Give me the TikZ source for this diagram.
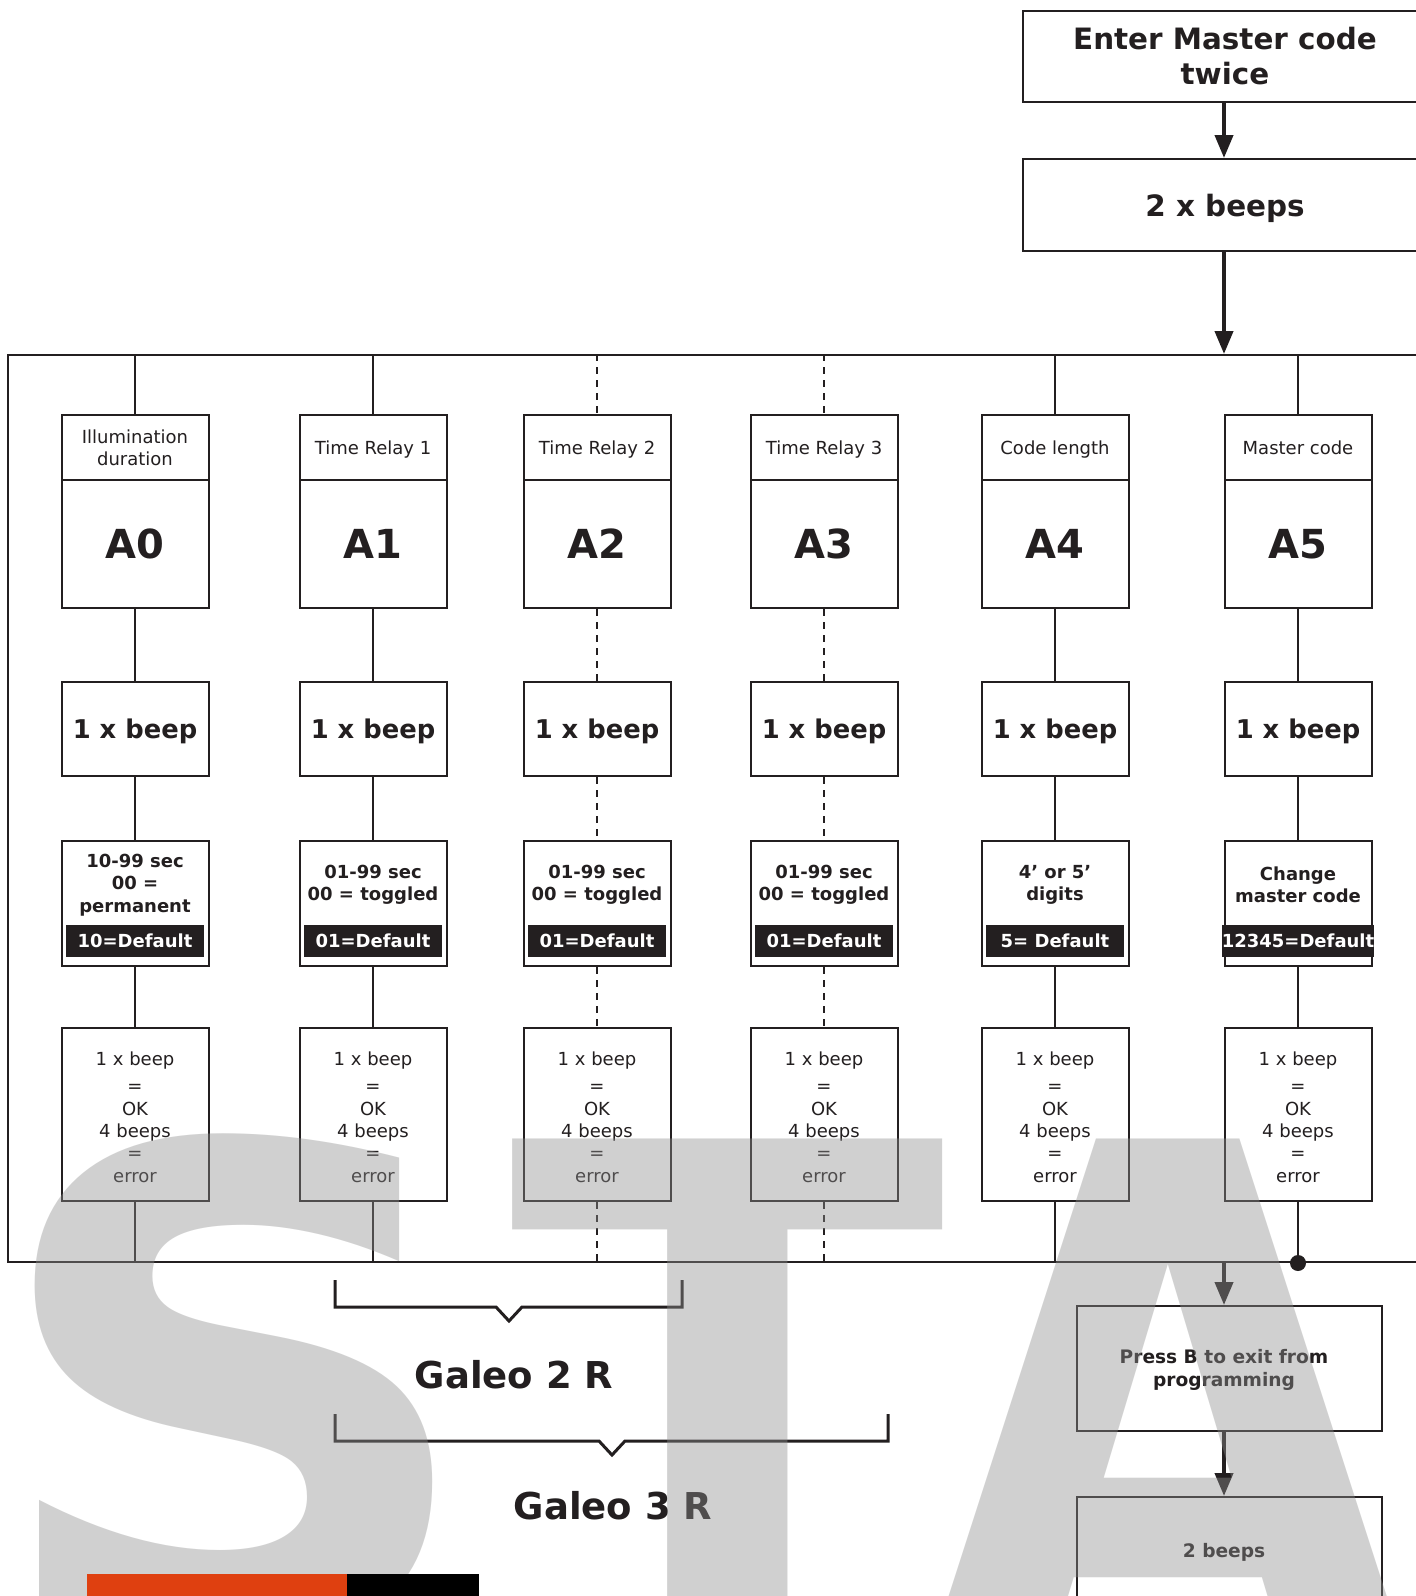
\documentclass[tikz,border=0pt]{standalone}
\usepackage{fontspec}
\setmainfont{DejaVu Sans}
\usetikzlibrary{arrows.meta}
\definecolor{ink}{RGB}{35,31,32}
\definecolor{wm}{gray}{0.56}
\definecolor{orangebar}{RGB}{223,64,16}
\tikzset{
 base/.style={draw=ink, line width=1pt, inner sep=0pt, align=center, text=ink},
 hdr/.style={base, minimum width=73.5pt, minimum height=32.5pt, text depth=0pt, font=\fontsize{9}{11}\selectfont},
 abox/.style={base, minimum width=73.5pt, minimum height=64pt, font=\fontsize{20}{24}\selectfont\bfseries},
 beep/.style={base, minimum width=73.5pt, minimum height=47pt, text depth=0pt, font=\fontsize{12.9}{15}\selectfont\bfseries},
 valbox/.style={base, minimum width=73.5pt, minimum height=62.5pt},
 valtxt/.style={inner sep=0pt, align=center, text=ink, font=\fontsize{9}{11.25}\selectfont\bfseries},
 band/.style={fill=ink, text=white, inner sep=0pt, minimum width=69pt, minimum height=16pt, font=\fontsize{9}{11}\selectfont\bfseries},
 resbox/.style={base, minimum width=73.5pt, minimum height=86.5pt},
 restxt/.style={inner sep=0pt, align=center, text=ink, font=\fontsize{9}{11.2}\selectfont},
 bigbox/.style={base, font=\fontsize{14.7}{17.5}\selectfont\bfseries},
 exitbox/.style={base, minimum width=152.5pt},
 exittxt/.style={inner sep=0pt, align=center, text=ink, font=\fontsize{9.3}{11.5}\selectfont\bfseries},
 csolid/.style={draw=ink, line width=1pt},
 cdash/.style={draw=ink, line width=0.85pt, dash pattern=on 3.5pt off 3pt},
 flow/.style={draw=ink, line width=2pt, -{Triangle[length=11.5pt,width=9pt]}},
 bracket/.style={draw=ink, line width=1.5pt},
 galeo/.style={text=ink, inner sep=0pt, font=\fontsize{18.5}{22}\selectfont\bfseries},
 wmark/.style={text=wm, text opacity=0.41, inner sep=0pt, anchor=base, font=\fontsize{320}{320}\selectfont\bfseries},
}
\begin{document}
\begin{tikzpicture}[x=0.5pt,y=-0.5pt]
\useasboundingbox (0,0) rectangle (1416,1596);
\fill[white] (0,0) rectangle (1416,1596);

% top flow
\node[bigbox, minimum width=202pt, minimum height=45.5pt] (enter) at (1225,56.5) {Enter Master code\\twice};
\node[bigbox, minimum width=202pt, minimum height=46pt, text depth=0pt] (bp2) at (1225,205) {2 x beeps};
\coordinate (ax) at (1224,0);

% frame
\node[base, minimum width=716pt, minimum height=453.5pt] (frame) at (724,808.5) {};

\draw[flow] (enter.south -| ax) -- (bp2.north -| ax);
\draw[flow] (bp2.south -| ax) -- (frame.north -| ax);

% columns
\foreach \i/\x/\st/\head/\val/\dflt in {
 0/135/csolid/{Illumination\\duration}/{10-99 sec\\00 =\\permanent}/{10=Default},
 1/373/csolid/{Time Relay 1}/{01-99 sec\\00 = toggled}/{01=Default},
 2/597/cdash/{Time Relay 2}/{01-99 sec\\00 = toggled}/{01=Default},
 3/824/cdash/{Time Relay 3}/{01-99 sec\\00 = toggled}/{01=Default},
 4/1055/csolid/{Code length}/{4’ or 5’\\digits}/{5= Default},
 5/1298/csolid/{Master code}/{Change\\master code}/{12345=Default}}{
  \node[hdr] (h\i) at (\x,447.5) {\head};
  \node[abox] (a\i) at (\x,544) {A\i};
  \node[beep] (b\i) at (\x,729) {1 x beep};
  \node[valbox] (v\i) at (\x,903.5) {};
  \node[valtxt] (t\i) at (\x,885) {\val};
  \node[band] (d\i) at (\x,940.5) {\dflt};
  \node[resbox] (r\i) at (\x,1114.5) {};
  \node[restxt] (q\i) at (\x,1117) {1 x beep\\[2.5pt]=\\OK\\4 beeps\\=\\error};
  \draw[\st] (h\i.north |- frame.north) -- (h\i.north);
  \draw[\st] (a\i.south) -- (b\i.north);
  \draw[\st] (b\i.south) -- (v\i.north);
  \draw[\st] (v\i.south) -- (r\i.north);
}
\foreach \i in {0,1,4}{\draw[csolid] (r\i.south) -- (r\i.south |- frame.south);}
\foreach \i in {2,3}{\draw[cdash] (r\i.south) -- (r\i.south |- frame.south);}
\node[circle, fill=ink, inner sep=0pt, minimum size=8pt] (dot) at (r5.south |- frame.south) {};
\draw[csolid] (r5.south) -- (dot.center);

% exit flow
\node[exitbox, minimum height=62.5pt] (pb) at (1229.5,1368.5) {};
\node[exittxt] (pbt) at (1224,1370) {Press B to exit from\\programming};
\node[exitbox, minimum height=53pt] (tb) at (1229.5,1550) {};
\node[exittxt] (tbt) at (1224,1552) {2 beeps};
\draw[flow] (frame.south -| ax) -- (pb.north -| ax);
\draw[flow] (pb.south -| ax) -- (tb.north -| ax);

% brackets
\draw[bracket] (335,1280) -- (335,1307) -- (496,1307) -- (509,1321) -- (522,1307) -- (682,1307) -- (682,1280);
\node[galeo] (g2) at (514,1375) {Galeo 2 R};
\draw[bracket] (335,1414) -- (335,1441) -- (599,1441) -- (612,1455) -- (625,1441) -- (888,1441) -- (888,1414);
\node[galeo] (g3) at (613,1506) {Galeo 3 R};

% watermark
\node[wmark, xscale=1.08, yscale=1.05] (wmS) at (234,1632) {S};
\node[wmark] (wmT) at (728,1605) {T};
\node[wmark, yscale=1.15] (wmA) at (1168,1675) {A};

% colour bar
\fill[orangebar] (87,1574) rectangle (347,1600);
\fill[black] (347,1574) rectangle (479,1600);
\end{tikzpicture}
\end{document}
